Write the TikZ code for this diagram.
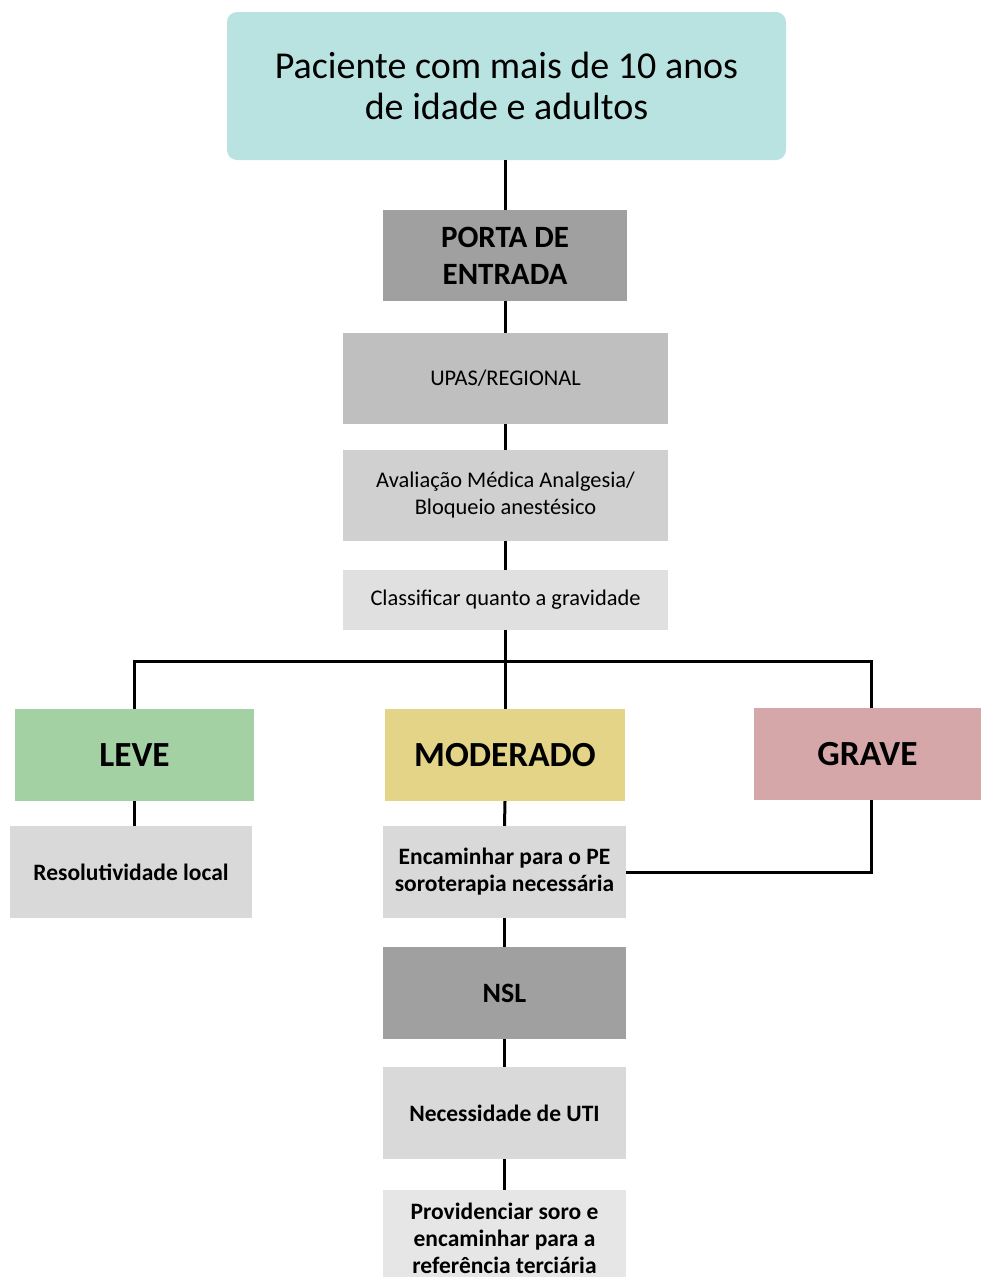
\documentclass[tikz,border=0pt]{standalone}
\usepackage{fontspec}
\setmainfont{Carlito}
\definecolor{cteal}{HTML}{B9E3E0}
\definecolor{cdark}{HTML}{A0A0A0}
\definecolor{cmid}{HTML}{BFBFBF}
\definecolor{clight}{HTML}{D0D0D0}
\definecolor{clighter}{HTML}{E0E0E0}
\definecolor{cbox}{HTML}{D9D9D9}
\definecolor{cgreen}{HTML}{A3D1A4}
\definecolor{cyellow}{HTML}{E3D488}
\definecolor{cred}{HTML}{D5A7A9}
\definecolor{cpale}{HTML}{E6E6E6}
\tikzset{
  box/.style={inner sep=0pt, align=center, text=black},
  conn/.style={line width=3pt, black},
  regtext/.style={font=\fontsize{22.4}{27}\selectfont},
  boldtext/.style={font=\bfseries\fontsize{23.5}{27}\selectfont},
  sevtext/.style={font=\bfseries\fontsize{35.3}{40}\selectfont},
}
\begin{document}
\begin{tikzpicture}[x=1pt,y=-1pt]
\useasboundingbox (0,0) rectangle (981,1277);
\begin{scope}
\clip (0,0) rectangle (981,1277);
\node[box, fill=cteal, rounded corners=10pt, minimum width=559pt, minimum height=148pt, font=\fontsize{38}{41}\selectfont] (top) at (506.5,86) {Paciente com mais de 10 anos\\de idade e adultos};
\node[box, fill=cdark, minimum width=244pt, minimum height=91pt, font=\bfseries\fontsize{31}{37}\selectfont] (porta) at (505,255.5) {PORTA DE\\ENTRADA};
\node[box, fill=cmid, minimum width=325pt, minimum height=91pt, regtext] (upas) at (505.5,378.5) {UPAS/REGIONAL};
\node[box, fill=clight, minimum width=325pt, minimum height=91pt, regtext] (aval) at (505.5,495.5) {Avaliação Médica Analgesia/\\Bloqueio anestésico};
\node[box, fill=clighter, minimum width=325pt, minimum height=60pt, regtext] (class) at (505.5,600) {Classificar quanto a gravidade};
\node[box, fill=cgreen, minimum width=239pt, minimum height=92pt, sevtext] (leve) at (134.5,755) {LEVE};
\node[box, fill=cyellow, minimum width=240pt, minimum height=92pt, sevtext] (mod) at (505,755) {MODERADO};
\node[box, fill=cred, minimum width=227pt, minimum height=92pt, sevtext] (grave) at (867.5,754) {GRAVE};
\node[box, fill=cbox, minimum width=242pt, minimum height=92pt, boldtext] (resol) at (131,872) {Resolutividade local};
\node[box, fill=cbox, minimum width=243pt, minimum height=92pt, boldtext] (encam) at (504.5,872) {Encaminhar para o PE\\soroterapia necessária};
\node[box, fill=cdark, minimum width=243pt, minimum height=92pt, font=\bfseries\fontsize{28}{27}\selectfont] (nsl) at (504.5,993) {NSL};
\node[box, fill=cbox, minimum width=243pt, minimum height=92pt, boldtext] (uti) at (504.5,1113) {Necessidade de UTI};
\node[box, fill=cpale, minimum width=243pt, minimum height=96pt, boldtext] (prov) at (504.5,1238) {Providenciar soro e\\encaminhar para a\\referência terciária};
\end{scope}
\coordinate (bL) at (134.5,661);
\coordinate (bR) at (871,661);
\draw[conn] (top.south -| porta.north) -- (porta.north);
\draw[conn] (porta.south) -- (porta.south |- upas.north);
\draw[conn] (porta.south |- upas.south) -- (porta.south |- aval.north);
\draw[conn] (porta.south |- aval.south) -- (porta.south |- class.north);
\draw[conn] (porta.south |- class.south) -- (porta.south |- mod.north);
\draw[conn] (leve.north) -- (bL) -- (bR) -- (bR |- grave.north);
\draw[conn] (leve.south) -- (leve.south |- resol.north);
\draw[conn] (mod.south) -- (encam.north);
\draw[conn] (bR |- grave.south) |- (encam.east);
\draw[conn] (encam.south) -- (nsl.north);
\draw[conn] (nsl.south) -- (uti.north);
\draw[conn] (uti.south) -- (prov.north);
\end{tikzpicture}
\end{document}
